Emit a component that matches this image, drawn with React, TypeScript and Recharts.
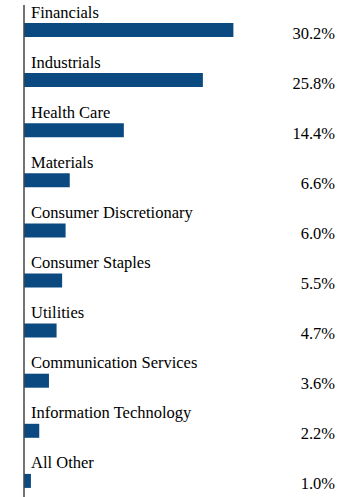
import React from 'react';
import { BarChart, Bar, XAxis, YAxis, LabelList, ReferenceLine } from 'recharts';

const categories = [
  'Financials',
  'Industrials',
  'Health Care',
  'Materials',
  'Consumer Discretionary',
  'Consumer Staples',
  'Utilities',
  'Communication Services',
  'Information Technology',
  'All Other',
];
const values = [30.2, 25.8, 14.4, 6.6, 6.0, 5.5, 4.7, 3.6, 2.2, 1.0];
const valueLabels = ['30.2%', '25.8%', '14.4%', '6.6%', '6.0%', '5.5%', '4.7%', '3.6%', '2.2%', '1.0%'];

const data = categories.map((name, i) => ({ name, value: values[i], label: valueLabels[i] }));

const FONT = "'Liberation Serif', 'Times New Roman', serif";
const BAR_COLOR = '#0b4a80';
const CHART_W = 360;
const CHART_H = 497;
const MARGIN_RIGHT = 24;

const textStyle: React.CSSProperties = { fontFamily: FONT, fontSize: 16.5 };

const NameLabel = (props: any) => {
  const { x, y, value } = props;
  return (
    <text x={Number(x) + 7} y={Number(y) - 5.5} style={textStyle} fill="#000" textAnchor="start">
      {value}
    </text>
  );
};

const ValueLabel = (props: any) => {
  const { y, value } = props;
  return (
    <text x={CHART_W - MARGIN_RIGHT - 1} y={Number(y) + 15.5} style={textStyle} fill="#000" textAnchor="end">
      {value}
    </text>
  );
};

export default function App() {
  return (
    <div style={{ position: 'absolute', left: 0, top: 0, width: CHART_W, height: CHART_H, background: '#fff' }}>
      <BarChart
        width={CHART_W}
        height={CHART_H}
        data={data}
        layout="vertical"
        margin={{ top: 5, right: MARGIN_RIGHT, bottom: -9, left: 24 }}
        barCategoryGap={0}
      >
        <XAxis type="number" domain={[0, 45]} hide />
        <YAxis type="category" dataKey="name" hide />
        <ReferenceLine x={0} stroke="#444" strokeWidth={1.5} />
        <Bar dataKey="value" fill={BAR_COLOR} barSize={14} isAnimationActive={false}>
          <LabelList dataKey="name" content={<NameLabel />} />
          <LabelList dataKey="label" content={<ValueLabel />} />
        </Bar>
      </BarChart>
    </div>
  );
}
